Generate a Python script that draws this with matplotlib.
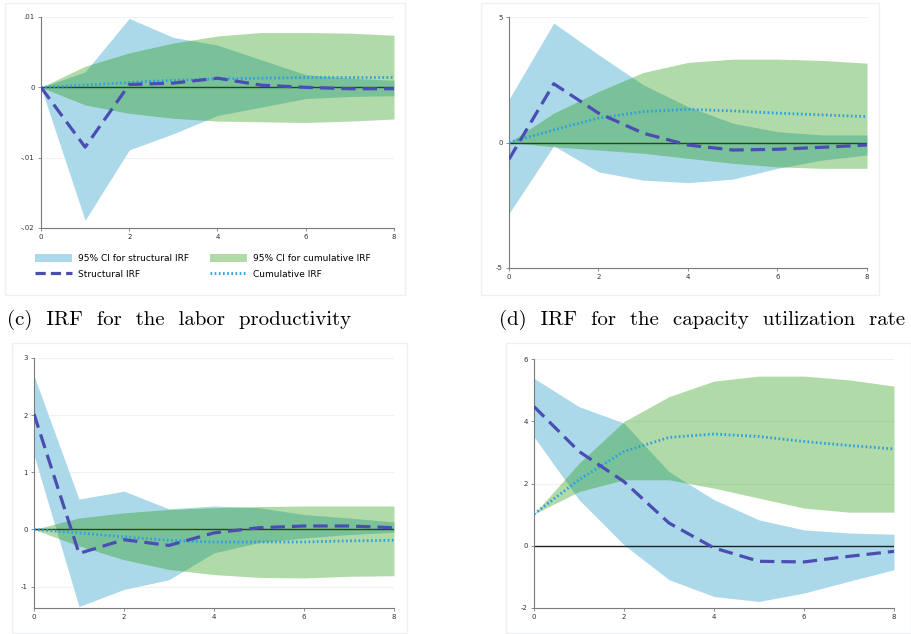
import matplotlib
matplotlib.use("Agg")
import matplotlib.pyplot as plt
from matplotlib.patches import Rectangle, Patch
from matplotlib.lines import Line2D
import numpy as np

steps = [0, 1, 2, 3, 4, 5, 6, 7, 8]

# Panel (a)
a_ci_s_lo = [0, -0.0189, -0.0089, -0.0066, -0.0040, -0.0028, -0.0016, -0.0013, -0.0012]
a_ci_s_hi = [0, 0.0022, 0.0098, 0.0071, 0.0060, 0.0039, 0.0018, 0.0013, 0.0010]
a_ci_c_lo = [0, -0.0025, -0.0037, -0.0044, -0.0048, -0.0049, -0.0050, -0.0048, -0.0045]
a_ci_c_hi = [0, 0.0030, 0.0049, 0.0063, 0.0073, 0.0078, 0.0078, 0.0077, 0.0074]
a_sirf = [0, -0.0085, 0.0004, 0.0006, 0.0013, 0.0003, 0.0000, -0.0002, -0.0002]
a_cirf = [0, 0.0003, 0.0007, 0.0010, 0.0012, 0.0013, 0.0014, 0.0014, 0.0014]

# Panel (b)
b_ci_s_lo = [-2.83, -0.13, -1.17, -1.50, -1.60, -1.46, -1.03, -0.70, -0.50]
b_ci_s_hi = [1.72, 4.76, 3.50, 2.30, 1.43, 0.77, 0.43, 0.30, 0.30]
b_ci_c_lo = [0, -0.17, -0.30, -0.43, -0.63, -0.83, -0.97, -1.03, -1.03]
b_ci_c_hi = [0, 1.17, 2.03, 2.79, 3.19, 3.32, 3.32, 3.27, 3.16]
b_sirf = [-0.67, 2.34, 1.17, 0.37, -0.10, -0.30, -0.27, -0.19, -0.10]
b_cirf = [0, 0.50, 0.97, 1.23, 1.32, 1.26, 1.17, 1.10, 1.03]

# Panel (c) labor productivity
c_ci_s_lo = [1.30, -1.35, -1.05, -0.88, -0.41, -0.23, -0.15, -0.09, -0.05]
c_ci_s_hi = [2.69, 0.53, 0.67, 0.36, 0.41, 0.38, 0.26, 0.20, 0.13]
c_ci_c_lo = [0, -0.29, -0.53, -0.70, -0.79, -0.84, -0.85, -0.82, -0.81]
c_ci_c_hi = [0, 0.20, 0.29, 0.35, 0.38, 0.40, 0.41, 0.41, 0.41]
c_sirf = [2.02, -0.42, -0.18, -0.28, -0.06, 0.03, 0.06, 0.06, 0.03]
c_cirf = [0, -0.06, -0.13, -0.19, -0.22, -0.22, -0.22, -0.20, -0.19]

# Panel (d) capacity utilization rate
d_ci_s_lo = [3.50, 1.48, 0.03, -1.09, -1.63, -1.79, -1.52, -1.14, -0.77]
d_ci_s_hi = [5.38, 4.47, 3.94, 2.38, 1.48, 0.83, 0.51, 0.41, 0.37]
d_ci_c_lo = [1.02, 1.74, 2.12, 2.12, 1.85, 1.53, 1.21, 1.08, 1.08]
d_ci_c_hi = [1.02, 2.65, 3.99, 4.79, 5.29, 5.45, 5.45, 5.33, 5.13]
d_sirf = [4.47, 3.03, 2.06, 0.73, -0.07, -0.50, -0.52, -0.34, -0.18]
d_cirf = [1.02, 2.12, 3.03, 3.48, 3.59, 3.51, 3.35, 3.22, 3.11]

x_ticks = [0, 2, 4, 6, 8]
a_yticks = [-0.02, -0.01, 0, 0.01]
a_ylabels = ["-.02", "-.01", "0", ".01"]
b_yticks = [-5, 0, 5]
b_ylabels = ["-5", "0", "5"]
c_yticks = [-1, 0, 1, 2, 3]
c_ylabels = ["-1", "0", "1", "2", "3"]
d_yticks = [-2, 0, 2, 4, 6]
d_ylabels = ["-2", "0", "2", "4", "6"]

caption_c = "(c)  IRF  for  the  labor  productivity"
caption_d = "(d)  IRF  for  the  capacity  utilization  rate"
legend_labels = ["95% CI for structural IRF", "Structural IRF",
                 "95% CI for cumulative IRF", "Cumulative IRF"]

BLUE_CI = "#abd9e9"
GREEN_CI = (30/255, 150/255, 5/255, 0.35)
GREEN_LEG = (30/255*0.35+0.65, 150/255*0.35+0.65, 5/255*0.35+0.65)
SIRF_COL = "#4b4db3"
CIRF_COL = "#2a9fe6"

W, H = 912, 634
fig = plt.figure(figsize=(W/100, H/100), dpi=100)
fig.patch.set_facecolor("white")

def frac_box(x0, y0, x1, y1):
    return [x0/W, 1 - y1/H, (x1-x0)/W, (y1-y0)/H]

# panel frames
for (x0, y0, x1, y1) in [(5, 3, 405, 295), (481, 3, 879, 295), (12, 343, 407, 633), (506, 343, 911, 633)]:
    fig.patches.append(Rectangle((x0/W, 1-y1/H), (x1-x0)/W, (y1-y0)/H, transform=fig.transFigure,
                                 facecolor="none", edgecolor="#eef0f1", lw=1.0, zorder=-5))

def panel(box, lo_s, hi_s, lo_c, hi_c, sirf, cirf, ylim, yticks, ylabels):
    ax = fig.add_axes(frac_box(*box))
    ax.set_facecolor("none")
    ax.set_zorder(2)
    ax.fill_between(steps, lo_s, hi_s, color=BLUE_CI, lw=0, zorder=1)
    ax.axhline(0, color="#222222", lw=1.0, zorder=2)
    ax.fill_between(steps, lo_c, hi_c, color=GREEN_CI, lw=0, zorder=3)
    ax.plot(steps, sirf, color=SIRF_COL, lw=2.3, ls=(0, (4.5, 2.2)), zorder=5)
    ax.plot(steps, cirf, color=CIRF_COL, lw=2.0, ls=(0, (0.6, 0.9)), zorder=4)
    ax.set_xlim(0, 8)
    ax.set_ylim(*ylim)
    ax.set_xticks(x_ticks)
    ax.set_xticklabels([str(t) for t in x_ticks])
    ax.set_yticks(yticks)
    ax.set_yticklabels(ylabels)
    ax.grid(axis="y", color="#f0f2f2", lw=0.8, zorder=0)
    ax.set_axisbelow(True)
    for s in ["top", "right"]:
        ax.spines[s].set_visible(False)
    for s in ["left", "bottom"]:
        ax.spines[s].set_color("#7a7a7a")
        ax.spines[s].set_linewidth(0.8)
    ax.tick_params(axis="both", labelsize=5, length=2.5, width=0.6, color="#7a7a7a",
                   pad=2, labelcolor="#333333")
    return ax

ax_a = panel((41, 17, 394, 228), a_ci_s_lo, a_ci_s_hi, a_ci_c_lo, a_ci_c_hi, a_sirf, a_cirf,
             (-0.02, 0.01), a_yticks, a_ylabels)
ax_b = panel((509, 17, 867, 268), b_ci_s_lo, b_ci_s_hi, b_ci_c_lo, b_ci_c_hi, b_sirf, b_cirf,
             (-5, 5), b_yticks, b_ylabels)
ax_c = panel((34, 358, 394, 608), c_ci_s_lo, c_ci_s_hi, c_ci_c_lo, c_ci_c_hi, c_sirf, c_cirf,
             (-1.375, 3.0), c_yticks, c_ylabels)
ax_d = panel((534, 359, 894, 608), d_ci_s_lo, d_ci_s_hi, d_ci_c_lo, d_ci_c_hi, d_sirf, d_cirf,
             (-2, 6), d_yticks, d_ylabels)

handles = [Patch(facecolor=BLUE_CI, edgecolor="none"),
           Line2D([], [], color=SIRF_COL, lw=2.3, ls=(0, (3.2, 1.6))),
           Patch(facecolor=GREEN_LEG, edgecolor="none"),
           Line2D([], [], color=CIRF_COL, lw=2.0, ls=(0, (0.6, 0.9)))]
fig.legend(handles, legend_labels, loc="upper left", ncol=2, frameon=False,
           bbox_to_anchor=(33/W, 1 - 252/H), borderaxespad=0, borderpad=0.2,
           fontsize=6.5, handlelength=4.1, handleheight=1.0,
           columnspacing=2.4, labelspacing=0.75, handletextpad=0.65)

fig.text(7/W, 1 - 320/H, caption_c, family="cmr10", fontsize=15, va="center", ha="left", color="black")
fig.text(499/W, 1 - 320/H, caption_d, family="cmr10", fontsize=15, va="center", ha="left", color="black")

fig.savefig("out.png", dpi=100, facecolor="white")
